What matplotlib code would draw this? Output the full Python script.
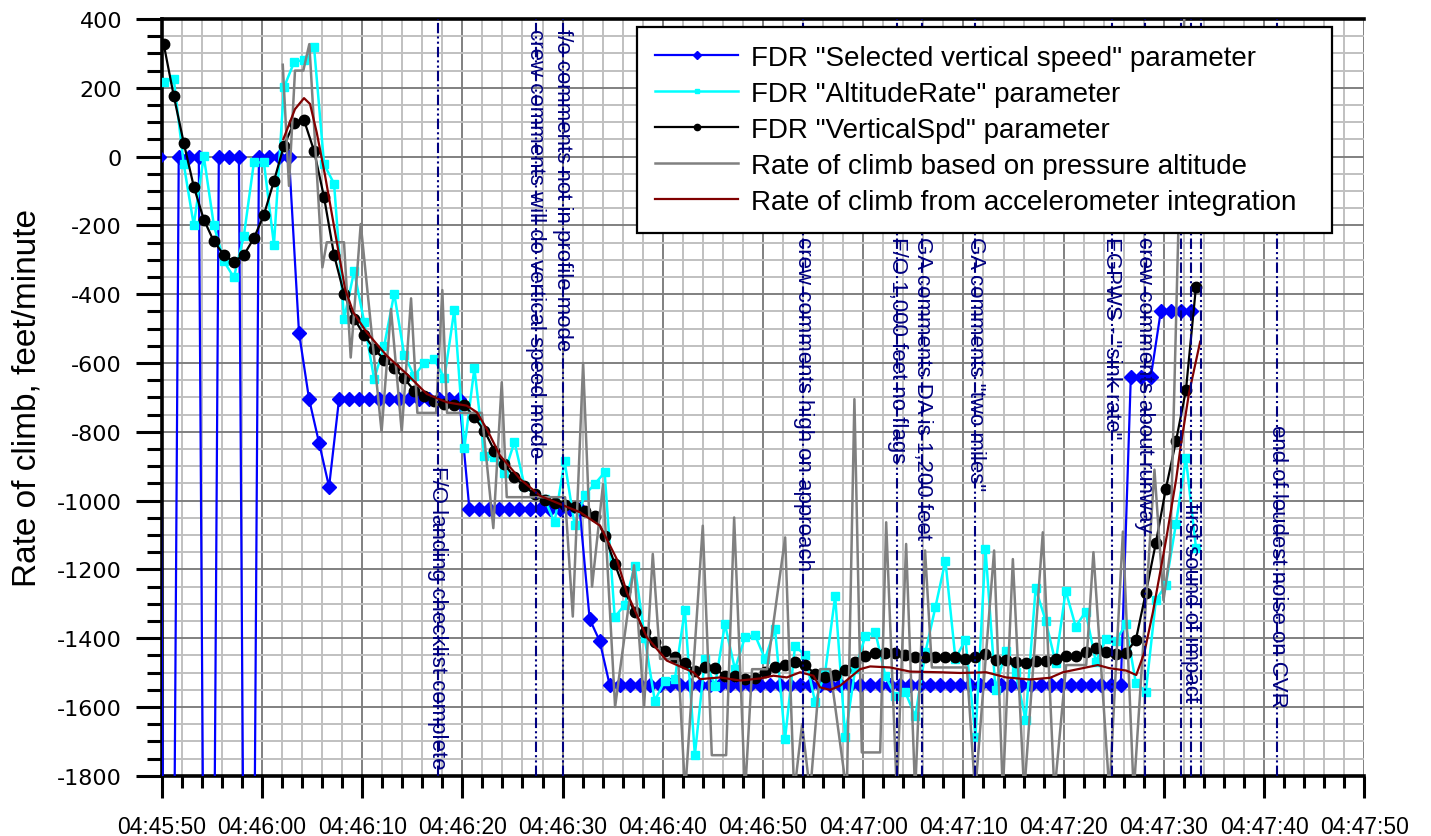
import numpy as np
import matplotlib.pyplot as plt
from matplotlib.ticker import MultipleLocator

plt.rcParams['font.family'] = ['Liberation Sans', 'DejaVu Sans']
plt.rcParams['axes.unicode_minus'] = False

# time axis: seconds after 04:45:50
tick_seconds = [0, 10, 20, 30, 40, 50, 60, 70, 80, 90, 100, 110, 120]
tick_labels = ["04:45:50", "04:46:00", "04:46:10", "04:46:20", "04:46:30",
               "04:46:40", "04:46:50", "04:47:00", "04:47:10", "04:47:20",
               "04:47:30", "04:47:40", "04:47:50"]

# FDR parameters are sampled once per second
fdr_time = 0.2 + np.arange(104)
sel_time = -0.3 + np.arange(104)

# selected vertical speed (off-scale samples are bad words in the recording)
selected_vs = ([0, -4500, 0, 0, 0, -4500, 0, 0, 0, -4500, 0, 0, 0, 0,
                -512, -704, -832, -960]
               + [-704] * 13 + [-1024] * 12 + [-1344, -1408]
               + [-1536] * 52 + [-640] * 3 + [-448] * 4)

altitude_rate = [216, 226, -22, -199, 1, -199, -304, -351, -230, -17,
                 -17, -256, 201, 274, 282, 319, -22, -79, -472, -333,
                 -480, -647, -550, -398, -577, -638, -599, -588, -645, -445,
                 -847, -615, -871, -874, -920, -829, -957, -981, -995, -1063,
                 -885, -1071, -984, -952, -918, -1339, -1303, -1189, -1400, -1582,
                 -1523, -1520, -1317, -1740, -1460, -1540, -1359, -1490, -1397, -1391,
                 -1460, -1373, -1693, -1422, -1450, -1586, -1499, -1278, -1686, -1490,
                 -1395, -1381, -1509, -1567, -1557, -1627, -1441, -1310, -1175, -1460,
                 -1404, -1686, -1141, -1550, -1436, -1499, -1637, -1255, -1349, -1472,
                 -1262, -1366, -1323, -1468, -1402, -1408, -1360, -1530, -1555, -1290,
                 -1245, -1068, -877, -1137]

vertical_spd = [327, 177, 40, -87, -183, -246, -286, -305, -286, -237,
                -169, -71, 32, 98, 106, 17, -118, -286, -400, -471,
                -519, -559, -590, -614, -645, -680, -695, -710, -719, -722,
                -722, -758, -797, -855, -894, -932, -958, -981, -997, -1007,
                -1012, -1020, -1029, -1044, -1102, -1183, -1262, -1325, -1383, -1412,
                -1436, -1456, -1472, -1494, -1485, -1488, -1509, -1509, -1519, -1517,
                -1499, -1485, -1478, -1470, -1478, -1504, -1514, -1507, -1492, -1470,
                -1451, -1444, -1444, -1444, -1449, -1454, -1454, -1454, -1454, -1456,
                -1459, -1454, -1447, -1462, -1463, -1468, -1472, -1465, -1465, -1460,
                -1453, -1451, -1441, -1429, -1439, -1446, -1443, -1405, -1268, -1123,
                -965, -828, -679, -379]

# rate of climb from pressure altitude (turning points of the trace)
pa_time = [12.08, 12.70, 13.30, 14.13, 14.73, 16.03, 16.47, 18.19, 18.86, 19.86,
           21.94, 22.88, 23.95, 24.88, 25.51, 27.38, 28.00, 28.47, 31.94, 33.09,
           33.93, 34.43, 40.25, 41.02, 42.05, 42.94, 44.04, 45.24, 47.13, 48.13,
           49.00, 49.73, 51.53, 52.23, 53.99, 54.89, 56.32, 57.12, 58.21, 58.91,
           60.41, 62.21, 63.11, 63.90, 64.70, 65.70, 66.70, 68.36, 69.12, 69.86,
           71.69, 72.29, 73.35, 74.28, 75.18, 76.17, 76.85, 80.34, 81.17, 83.06,
           83.93, 84.93, 86.06, 87.92, 89.08, 90.25, 92.25, 92.97, 94.57, 95.91,
           96.99, 99.06, 99.96, 100.63, 101.63, 102.13]
pa_rate = [267, -85, 250, 250, 327, -322, -249, -249, -584, -196,
           -800, -443, -800, -412, -745, -745, -388, -745, -745, -1080,
           -656, -990, -990, -1337, -600, -1250, -952, -1600, -1188, -1600,
           -1155, -1460, -1460, -1850, -1073, -1740, -1740, -1049, -1850, -1490,
           -1490, -1107, -1850, -1650, -1850, -1490, -1490, -1850, -705, -1732,
           -1732, -1063, -1850, -1126, -1850, -1145, -1485, -1485, -1850, -1145,
           -1850, -1170, -1850, -1092, -1850, -1478, -1478, -1150, -1850, -1090,
           -1850, -910, -1290, -1150, 0, 500]

# rate of climb from accelerometer integration
acc_time = [12.14, 13.30, 14.20, 14.80, 15.47, 16.30, 17.30, 18.30, 19.12, 20.46,
            22.46, 24.45, 26.45, 28.44, 30.44, 31.44, 32.44, 33.76, 35.76, 37.76,
            39.75, 41.75, 43.74, 45.41, 46.41, 48.40, 50.40, 53.05, 53.72, 55.71,
            57.71, 59.71, 61.04, 62.38, 63.70, 65.03, 65.70, 66.70, 67.70, 69.69,
            70.69, 72.69, 74.68, 77.68, 79.67, 82.27, 84.26, 86.66, 88.65, 89.92,
            93.41, 94.54, 96.24, 97.24, 98.06, 98.90, 100.23, 101.23, 101.68, 102.50,
            103.62]
acc_rate = [51, 138, 170, 153, 70, -55, -220, -385, -453, -511,
            -579, -632, -690, -714, -724, -743, -792, -869, -937, -986,
            -1010, -1034, -1073, -1170, -1267, -1397, -1465, -1499, -1519, -1514,
            -1523, -1517, -1509, -1514, -1499, -1509, -1543, -1550, -1538, -1490,
            -1482, -1485, -1497, -1499, -1501, -1499, -1514, -1520, -1515, -1499,
            -1478, -1487, -1494, -1507, -1441, -1325, -1112, -937, -841, -689,
            -538]

# CVR events
event_times = [27.55, 37.3, 40.0, 64.0, 73.4, 75.9, 81.2, 94.8, 98.1,
               101.7, 102.7, 103.7, 111.3]
event_labels = ["F/O landing checklist complete",
                "crew comments will do vertical speed mode",
                "f/o comments not in profile mode",
                "crew comments high on approach",
                "F/O 1,000 feet no flags",
                "GA comments DA is 1,200 feet",
                'GA comments "two miles"',
                'EGPWS - "sink rate"',
                "crew comments about runway",
                "", "first sound of impact", "",
                "end of loudest noise on CVR"]
event_text_y = [-1780, 375, 375, -230, -230, -230, -230, -230, -230,
                0, -1005, 0, -776]
event_text_va = ["bottom", "top", "top", "top", "top", "top", "top", "top", "top",
                 "top", "top", "top", "top"]

fig = plt.figure(figsize=(14.31, 8.37), dpi=100)
ax = fig.add_axes([0.1130, 0.0719, 0.8404, 0.9042])

ax.plot(sel_time, selected_vs, color='#0000ff', lw=1.6, marker='D', ms=7,
        label='FDR "Selected vertical speed" parameter', zorder=3)
ax.plot(fdr_time, altitude_rate, color='#00ffff', lw=1.8, marker='s', ms=6,
        label='FDR "AltitudeRate" parameter', zorder=3)
ax.plot(fdr_time, vertical_spd, color='black', lw=1.6, marker='o', ms=7.5,
        label='FDR "VerticalSpd" parameter', zorder=3)
ax.plot(pa_time, pa_rate, color='#808080', lw=1.8,
        label='Rate of climb based on pressure altitude', zorder=3)
ax.plot(acc_time, acc_rate, color='#800000', lw=1.6,
        label='Rate of climb from accelerometer integration', zorder=3)

dash_dot_dot = (0, (5, 1.5, 1, 1.5, 1, 1.5))
for t, lab, ty, va in zip(event_times, event_labels, event_text_y, event_text_va):
    ax.axvline(t, color='#000080', lw=1.5, ls=dash_dot_dot, zorder=4)
    if lab:
        ax.text(t, ty, lab, rotation=270, ha='center', va=va, color='#000080',
                fontsize=16, zorder=5)

ax.set_xlim(0, 120)
ax.set_ylim(-1800, 400)
ax.set_xticks(tick_seconds)
ax.set_xticklabels(tick_labels)
ax.xaxis.set_minor_locator(MultipleLocator(2))
ax.set_yticks(np.arange(-1800, 401, 200))
ax.yaxis.set_minor_locator(MultipleLocator(50))

ax.set_axisbelow(True)
ax.grid(which='minor', color='#c0c0c0', lw=1.4)
ax.grid(which='major', color='#808080', lw=1.4)

for side in ['left', 'bottom', 'top']:
    ax.spines[side].set_linewidth(2.6)
    ax.spines[side].set_color('black')
ax.spines['right'].set_visible(False)

ax.tick_params(axis='x', which='major', direction='out', length=16, width=2.2,
               pad=12, labelsize=16.5)
ax.tick_params(axis='x', which='minor', direction='out', length=8.5, width=2.2)
ax.tick_params(axis='y', which='major', direction='out', length=18.5, width=2.2,
               pad=10)
ax.tick_params(axis='y', which='minor', direction='out', length=11, width=2.2)
for lab in ax.get_yticklabels():
    lab.set_fontfamily('DejaVu Sans')
    lab.set_fontsize(16)

ax.set_ylabel('Rate of climb, feet/minute', fontsize=24)
ax.yaxis.set_label_coords(-0.099, 0.5)

# legend box stretched over the upper right part of the plot
leg = ax.legend(loc='upper left', bbox_to_anchor=(0.3952, 0.0, 0.5779, 0.9894),
                mode='expand', fontsize=20, frameon=True, fancybox=False,
                edgecolor='black', framealpha=1, handlelength=3.0,
                handletextpad=0.45, markerscale=0.6, borderpad=0.65,
                labelspacing=0.36, borderaxespad=0)
leg.get_frame().set_linewidth(1.6)
leg.set_zorder(10)

fig.savefig('out.png', dpi=100)
